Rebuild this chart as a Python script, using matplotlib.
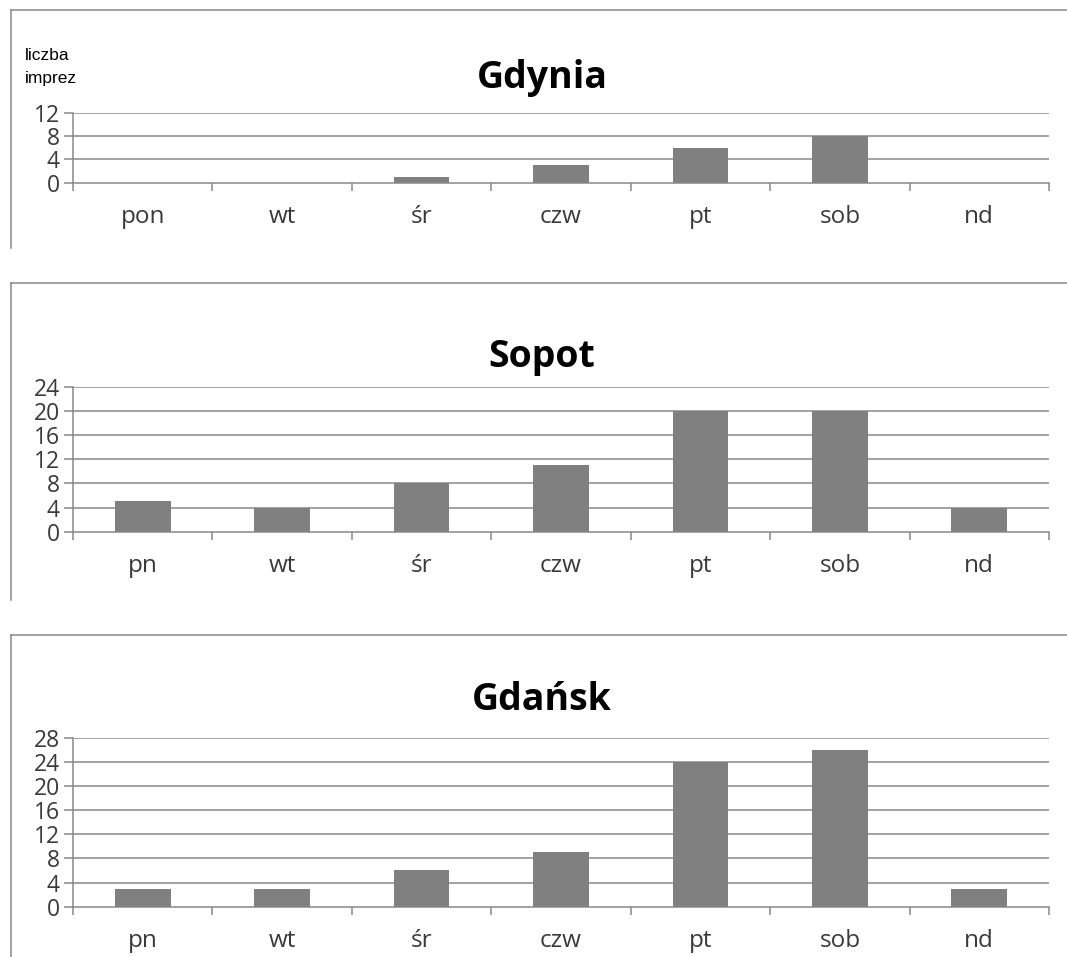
import matplotlib
matplotlib.use("Agg")
import matplotlib.pyplot as plt
from matplotlib.lines import Line2D
import numpy as np

# Liczba imprez w poszczególne dni tygodnia
cities = ["Gdynia", "Sopot", "Gdańsk"]
days_gdynia = ["pon", "wt", "śr", "czw", "pt", "sob", "nd"]
days_other = ["pn", "wt", "śr", "czw", "pt", "sob", "nd"]
gdynia = [0, 0, 1, 3, 6, 8, 0]
sopot = [5, 4, 8, 11, 20, 20, 4]
gdansk = [3, 3, 6, 9, 24, 26, 3]
y_max = [12, 24, 28]
y_step = 4

W, H = 1067, 957
fig = plt.figure(figsize=(W / 100, H / 100), dpi=100)
fig.patch.set_facecolor("white")

GRID = "#868686"
BAR = "#808080"
TXT = "#3a3a3a"

def px_x(x):
    return x / W

def px_y(y):
    return 1 - y / H

# panel layout in pixels: (axis top, axis bottom, frame top, frame left-bottom, title baseline)
panels = [
    (113.0, 182.7, 9.5, 248, 88),
    (386.7, 531.7, 283.5, 600, 366.5),
    (737.7, 906.7, 635.0, 957, 710),
]
series = [gdynia, sopot, gdansk]
labels = [days_gdynia, days_other, days_other]

x_left, x_right = 73, 1049
lw_px = 1.5 * 0.72

for i, (top, bot, ftop, fbot, tbase) in enumerate(panels):
    # frame around each chart
    fig.add_artist(Line2D([px_x(10.5), px_x(W)], [px_y(ftop), px_y(ftop)],
                          color=GRID, lw=lw_px, transform=fig.transFigure))
    fig.add_artist(Line2D([px_x(10.5), px_x(10.5)], [px_y(ftop), px_y(fbot)],
                          color=GRID, lw=lw_px, transform=fig.transFigure))

    ax = fig.add_axes([px_x(x_left), px_y(bot), (x_right - x_left) / W, (bot - top) / H])
    vals = series[i]
    x = np.arange(len(vals))
    ax.bar(x, vals, width=0.4, color=BAR, zorder=3)
    ax.set_xlim(-0.5, len(vals) - 0.5)
    ax.set_ylim(0, y_max[i])

    yt = np.arange(0, y_max[i] + 1, y_step)
    ax.set_yticks(yt)
    ax.set_yticklabels([str(v) for v in yt])
    for v in yt[1:]:
        ax.axhline(v, color=GRID, lw=lw_px, zorder=1)

    ax.set_xticks(np.arange(-0.5, len(vals), 1.0))
    ax.set_xticklabels([])
    ax.set_xticks(x, minor=True)
    ax.set_xticklabels(labels[i], minor=True)

    for s in ["top", "right"]:
        ax.spines[s].set_visible(False)
    for s in ["left", "bottom"]:
        ax.spines[s].set_color(GRID)
        ax.spines[s].set_linewidth(lw_px)
        ax.spines[s].set_zorder(4)

    ax.tick_params(axis="x", which="major", direction="out", length=8 * 0.72,
                   width=lw_px, color=GRID)
    ax.tick_params(axis="x", which="minor", length=0, pad=16,
                   labelsize=17.5, labelcolor=TXT)
    ax.tick_params(axis="y", direction="out", length=9 * 0.72, width=lw_px,
                   color=GRID, pad=3, labelsize=16.5, labelcolor=TXT)
    for lab in ax.get_xticklabels(minor=True) + ax.get_yticklabels():
        lab.set_fontfamily("Open Sans")
    ax.set_facecolor("none")

    fig.text(px_x(542), px_y(tbase), cities[i], ha="center", va="baseline",
             fontsize=27, fontweight="bold", family="Open Sans", color="black")

fig.text(px_x(25), px_y(60), "liczba", ha="left", va="baseline",
         fontsize=12.5, family="Liberation Sans", color="black")
fig.text(px_x(25), px_y(83), "imprez", ha="left", va="baseline",
         fontsize=12.5, family="Liberation Sans", color="black")

fig.savefig("out.png", dpi=100, facecolor="white")
